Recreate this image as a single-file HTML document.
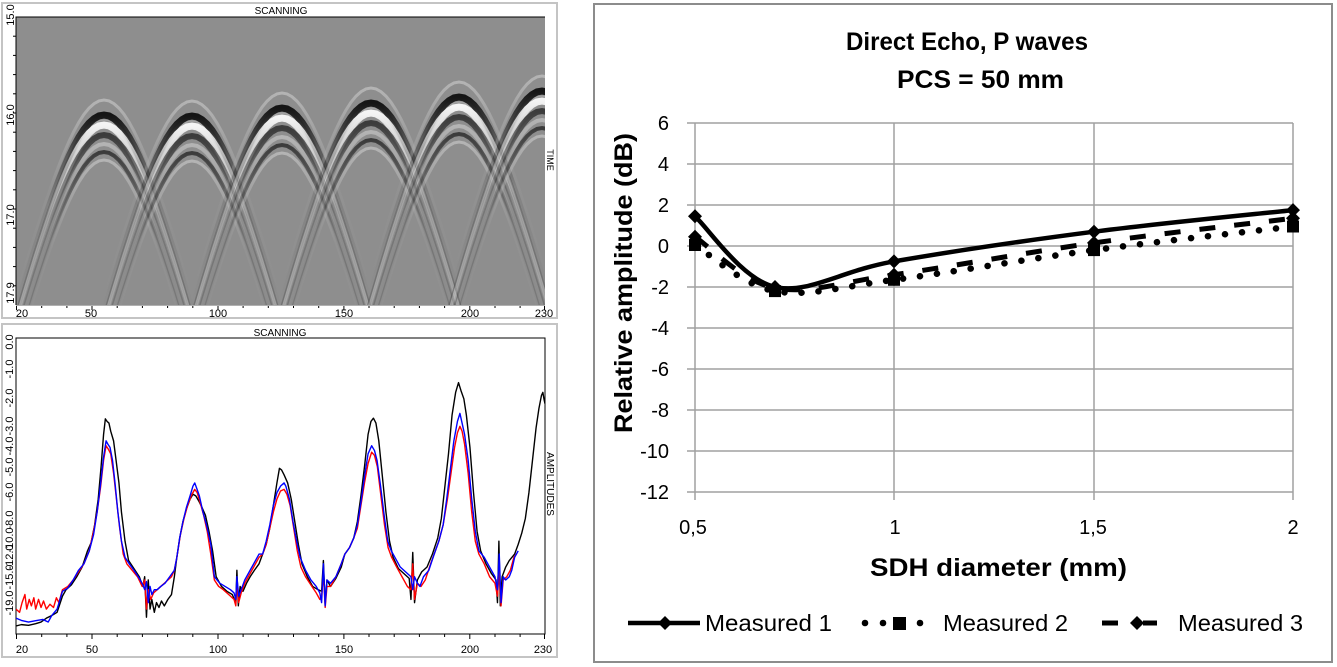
<!DOCTYPE html>
<html><head><meta charset="utf-8"><style>
html,body{margin:0;padding:0;background:#fff;}
svg{display:block;}
text{font-family:"Liberation Sans",Arial,sans-serif;}
</style></head><body>
<svg width="1337" height="667" viewBox="0 0 1337 667" xmlns="http://www.w3.org/2000/svg">
<defs>
  <path id="hyp" fill="none" d="M-110,274.2 L-100,238.6 L-90,203.8 L-80,170.1 L-70,137.6 L-60,106.9 L-55,92.3 L-50,78.4 L-45,65.2 L-40,52.8 L-35,41.4 L-30,31.1 L-25,22 L-20,14.3 L-15,8.2 L-10,3.7 L-5,0.9 L0,0 L5,0.9 L10,3.7 L15,8.2 L20,14.3 L25,22 L30,31.1 L35,41.4 L40,52.8 L45,65.2 L50,78.4 L55,92.3 L60,106.9 L70,137.6 L80,170.1 L90,203.8 L100,238.6 L110,274.2"/>
  <linearGradient id="gL" gradientUnits="userSpaceOnUse" x1="0" y1="0" x2="0" y2="200"><stop offset="0" stop-color="#b8b8b8" stop-opacity="0.9"/><stop offset="0.2" stop-color="#b8b8b8" stop-opacity="0.45"/><stop offset="0.45" stop-color="#b8b8b8" stop-opacity="0.1"/><stop offset="1" stop-color="#b8b8b8" stop-opacity="0"/></linearGradient>
  <linearGradient id="gD" gradientUnits="userSpaceOnUse" x1="0" y1="0" x2="0" y2="200"><stop offset="0" stop-color="#151515" stop-opacity="1"/><stop offset="0.2" stop-color="#151515" stop-opacity="0.45"/><stop offset="0.45" stop-color="#151515" stop-opacity="0.1"/><stop offset="1" stop-color="#151515" stop-opacity="0"/></linearGradient>
  <linearGradient id="gW" gradientUnits="userSpaceOnUse" x1="0" y1="0" x2="0" y2="200"><stop offset="0" stop-color="#f4f4f4" stop-opacity="1"/><stop offset="0.2" stop-color="#f4f4f4" stop-opacity="0.45"/><stop offset="0.45" stop-color="#f4f4f4" stop-opacity="0.1"/><stop offset="1" stop-color="#f4f4f4" stop-opacity="0"/></linearGradient>
  <linearGradient id="gM" gradientUnits="userSpaceOnUse" x1="0" y1="0" x2="0" y2="200"><stop offset="0" stop-color="#383838" stop-opacity="0.95"/><stop offset="0.2" stop-color="#383838" stop-opacity="0.45"/><stop offset="0.45" stop-color="#383838" stop-opacity="0.1"/><stop offset="1" stop-color="#383838" stop-opacity="0"/></linearGradient>
  <g id="arc">
    <use href="#hyp" y="15" stroke="#3c3c3c" stroke-opacity="0.35" stroke-width="1.5"/>
    <use href="#hyp" y="20" stroke="#c8c8c8" stroke-opacity="0.35" stroke-width="1.5"/>
    <use href="#hyp" y="26" stroke="#e0e0e0" stroke-opacity="0.3" stroke-width="1.5"/>
    <use href="#hyp" y="35" stroke="#3c3c3c" stroke-opacity="0.3" stroke-width="1.5"/>
    <use href="#hyp" y="52" stroke="#444" stroke-opacity="0.25" stroke-width="1.3"/>
    <use href="#hyp" y="0" stroke="url(#gL)" stroke-width="3"/>
    <use href="#hyp" y="15" stroke="url(#gD)" stroke-width="7"/>
    <use href="#hyp" y="25" stroke="url(#gW)" stroke-width="7"/>
    <use href="#hyp" y="35" stroke="url(#gM)" stroke-width="6"/>
    <use href="#hyp" y="44" stroke="url(#gL)" stroke-width="4"/>
    <use href="#hyp" y="52" stroke="url(#gM)" stroke-width="4"/>
    <use href="#hyp" y="60" stroke="url(#gL)" stroke-width="3"/>
  </g>
  <clipPath id="clipTop"><rect x="16" y="17" width="529" height="288"/></clipPath>
</defs>

<!-- LEFT TOP PANEL -->
<rect x="2" y="3" width="555" height="315" fill="#fff" stroke="#c4c4c4" stroke-width="2"/>
<rect x="16" y="17" width="529" height="288" fill="#8e8e8e"/>
<g clip-path="url(#clipTop)">
  <use href="#arc" x="104" y="100"/>
  <use href="#arc" x="192" y="101"/>
  <use href="#arc" x="282" y="93"/>
  <use href="#arc" x="371" y="88"/>
  <use href="#arc" x="459" y="82"/>
  <use href="#arc" x="542" y="76"/>
</g>
<path d="M16,305 V17 H545" fill="none" stroke="#000" stroke-width="1"/>
<line x1="16" y1="305.5" x2="545" y2="305.5" stroke="#b0b0b0" stroke-width="1"/>
<text x="281" y="14" font-size="10" text-anchor="middle">SCANNING</text>
<text transform="translate(547,160) rotate(90)" font-size="9" text-anchor="middle">TIME</text>
<g font-size="11" text-anchor="middle">
  <text transform="translate(14,15) rotate(-90)">15.0</text>
  <text transform="translate(14,115) rotate(-90)">16.0</text>
  <text transform="translate(14,215) rotate(-90)">17.0</text>
  <text transform="translate(14,293) rotate(-90)">17.9</text>
</g>
<g stroke="#000" stroke-width="1">
  <line x1="13" y1="36.2" x2="16" y2="36.2"/><line x1="13" y1="55.4" x2="16" y2="55.4"/><line x1="13" y1="74.6" x2="16" y2="74.6"/><line x1="13" y1="93.8" x2="16" y2="93.8"/><line x1="13" y1="113" x2="16" y2="113"/><line x1="13" y1="132.2" x2="16" y2="132.2"/><line x1="13" y1="151.4" x2="16" y2="151.4"/><line x1="13" y1="170.6" x2="16" y2="170.6"/><line x1="13" y1="189.8" x2="16" y2="189.8"/><line x1="13" y1="209" x2="16" y2="209"/><line x1="13" y1="228.2" x2="16" y2="228.2"/><line x1="13" y1="247.4" x2="16" y2="247.4"/><line x1="13" y1="266.6" x2="16" y2="266.6"/><line x1="13" y1="285.8" x2="16" y2="285.8"/>
</g>
<g stroke="#000" stroke-width="1">
  <line x1="16.5" y1="306" x2="16.5" y2="310"/><line x1="41.7" y1="306" x2="41.7" y2="308"/><line x1="66.9" y1="306" x2="66.9" y2="308"/><line x1="92" y1="306" x2="92" y2="310"/><line x1="117.2" y1="306" x2="117.2" y2="308"/><line x1="142.4" y1="306" x2="142.4" y2="308"/><line x1="167.6" y1="306" x2="167.6" y2="308"/><line x1="192.8" y1="306" x2="192.8" y2="308"/><line x1="218" y1="306" x2="218" y2="310"/><line x1="243.1" y1="306" x2="243.1" y2="308"/><line x1="268.3" y1="306" x2="268.3" y2="308"/><line x1="293.5" y1="306" x2="293.5" y2="308"/><line x1="318.7" y1="306" x2="318.7" y2="308"/><line x1="343.9" y1="306" x2="343.9" y2="310"/><line x1="369" y1="306" x2="369" y2="308"/><line x1="394.2" y1="306" x2="394.2" y2="308"/><line x1="419.4" y1="306" x2="419.4" y2="308"/><line x1="444.6" y1="306" x2="444.6" y2="308"/><line x1="469.8" y1="306" x2="469.8" y2="310"/><line x1="495" y1="306" x2="495" y2="308"/><line x1="520.1" y1="306" x2="520.1" y2="308"/><line x1="544.5" y1="306" x2="544.5" y2="310"/>
</g>
<g font-size="11" text-anchor="middle">
  <text x="22" y="317">20</text><text x="91" y="317">50</text><text x="218" y="317">100</text><text x="344" y="317">150</text><text x="470" y="317">200</text><text x="544" y="317">230</text>
</g>

<!-- LEFT BOTTOM PANEL -->
<rect x="2" y="324" width="555" height="333" fill="#fff" stroke="#c4c4c4" stroke-width="2"/>
<rect x="16" y="338" width="529" height="296" fill="#fff" stroke="#000" stroke-width="1"/>
<text x="280" y="336" font-size="10" text-anchor="middle">SCANNING</text>
<text transform="translate(547,484) rotate(90)" font-size="10" text-anchor="middle">AMPLITUDES</text>
<g font-size="11" text-anchor="middle">
  <text transform="translate(13,342) rotate(-90)">0.0</text>
  <text transform="translate(13,369) rotate(-90)">-1.0</text>
  <text transform="translate(13,398) rotate(-90)">-2.0</text>
  <text transform="translate(13,426) rotate(-90)">-3.0</text>
  <text transform="translate(13,446) rotate(-90)">-4.0</text>
  <text transform="translate(13,467) rotate(-90)">-5.0</text>
  <text transform="translate(13,492) rotate(-90)">-6.0</text>
  <text transform="translate(13,520) rotate(-90)">-8.0</text>
  <text transform="translate(13,540) rotate(-90)">-10.0</text>
  <text transform="translate(13,557) rotate(-90)">-12.0</text>
  <text transform="translate(13,577) rotate(-90)">-15.0</text>
  <text transform="translate(13,603) rotate(-90)">-19.0</text>
</g>
<svg x="16" y="338" width="529" height="296" viewBox="45 22 1480 915" preserveAspectRatio="none" overflow="hidden">
  <polyline fill="none" stroke="#000" stroke-width="1.4" vector-effect="non-scaling-stroke" stroke-linejoin="round" points="45,912 60,908 80,910 100,905 115,900 130,888 145,880 160,870 175,820 185,800 200,785 215,760 230,730 245,680 255,655 265,600 275,520 283,420 290,320 295,272 300,280 305,285 310,310 318,340 325,400 333,470 340,560 350,650 360,710 375,735 390,760 400,790 405,760 410,885 415,770 420,860 425,830 432,870 438,840 445,855 452,835 460,850 470,830 480,815 488,760 495,700 503,640 512,590 522,550 532,520 540,505 548,510 556,525 565,545 575,570 585,620 595,680 605,760 620,790 635,805 650,815 660,840 663,740 667,850 672,790 680,805 690,780 700,760 712,740 725,720 735,690 745,660 755,610 765,540 775,470 782,425 788,430 795,445 805,470 815,520 825,590 835,660 845,720 860,760 875,790 890,800 900,805 905,710 910,845 915,770 925,790 940,765 955,730 965,690 978,670 990,640 1000,590 1010,510 1020,420 1030,320 1038,280 1045,270 1052,285 1060,340 1070,450 1080,560 1090,650 1100,700 1115,735 1130,750 1145,765 1150,830 1155,685 1160,840 1168,770 1180,745 1195,730 1210,690 1225,640 1235,580 1245,480 1255,380 1265,260 1275,190 1283,160 1290,185 1298,210 1305,260 1315,360 1325,500 1335,620 1345,680 1360,720 1375,750 1388,770 1392,840 1396,650 1400,850 1405,760 1415,730 1425,710 1440,690 1450,660 1460,625 1470,580 1480,500 1490,400 1500,300 1508,240 1515,200 1519,190 1522,210 1525,225"/>
  <polyline fill="none" stroke="#ff0000" stroke-width="1.4" vector-effect="non-scaling-stroke" stroke-linejoin="round" points="45,860 55,870 62,840 70,815 75,860 82,830 88,850 95,825 100,860 108,830 115,855 122,835 130,860 140,845 150,855 158,825 165,840 175,800 190,790 205,770 220,745 235,720 250,680 262,620 272,560 282,480 290,400 297,355 303,365 310,380 318,440 326,520 335,610 345,690 355,720 370,740 385,760 398,790 405,770 410,860 415,800 422,830 430,810 440,800 450,790 460,780 470,770 480,760 488,740 495,700 505,630 515,580 525,540 535,510 545,490 552,500 560,530 570,570 580,620 590,690 600,770 612,790 625,800 640,815 655,830 660,850 663,780 668,840 675,810 685,780 700,750 715,720 725,700 735,690 745,660 755,610 765,560 775,520 785,495 795,490 803,505 812,540 822,610 832,680 842,730 855,760 870,785 885,810 895,830 900,820 905,750 910,855 915,790 925,790 940,760 955,720 965,690 978,670 990,640 1000,610 1010,540 1020,470 1030,410 1040,375 1048,385 1056,420 1066,510 1076,600 1086,670 1096,700 1110,730 1125,760 1140,790 1150,800 1155,720 1160,830 1168,780 1178,790 1190,770 1205,720 1215,690 1228,650 1240,600 1252,520 1262,440 1272,360 1280,315 1287,295 1293,310 1300,350 1310,440 1320,560 1330,650 1340,690 1355,720 1370,760 1385,780 1392,820 1397,740 1402,850 1408,770 1418,760 1428,740 1438,700 1445,690"/>
  <polyline fill="none" stroke="#0000ff" stroke-width="1.4" vector-effect="non-scaling-stroke" stroke-linejoin="round" points="45,888 60,895 80,900 100,896 120,892 135,900 145,880 160,860 175,805 190,795 205,770 220,740 235,720 250,680 262,630 272,560 282,470 290,390 297,340 302,350 308,360 315,400 322,470 330,560 340,650 350,700 362,720 375,740 390,765 400,785 405,800 410,775 415,840 420,790 425,815 432,800 440,800 450,790 462,780 475,760 488,740 495,700 503,640 512,590 522,545 532,510 540,480 545,470 550,485 558,510 568,560 578,600 590,660 600,760 615,780 630,790 645,800 655,810 660,830 663,760 668,820 675,800 685,770 700,740 715,710 725,690 735,690 745,650 755,600 765,540 775,500 785,480 795,470 800,480 810,520 820,590 830,650 840,700 855,740 870,770 885,790 895,810 900,840 905,720 910,850 915,770 925,780 940,760 955,720 965,690 978,670 990,640 1000,600 1010,530 1020,450 1030,380 1040,355 1048,370 1055,400 1065,480 1075,570 1085,650 1095,680 1105,700 1120,730 1135,745 1150,760 1155,800 1160,760 1168,780 1175,790 1185,760 1200,740 1215,690 1228,650 1240,600 1250,520 1260,430 1270,340 1280,280 1287,255 1293,285 1300,320 1310,400 1320,520 1330,620 1340,680 1355,700 1370,730 1385,760 1392,800 1397,690 1402,840 1408,760 1415,770 1425,760 1432,740 1440,700 1450,680"/>
</svg>
<g stroke="#000" stroke-width="1">
  <line x1="16.5" y1="634" x2="16.5" y2="639"/><line x1="41.7" y1="634" x2="41.7" y2="637"/><line x1="66.9" y1="634" x2="66.9" y2="637"/><line x1="92" y1="634" x2="92" y2="639"/><line x1="117.2" y1="634" x2="117.2" y2="637"/><line x1="142.4" y1="634" x2="142.4" y2="637"/><line x1="167.6" y1="634" x2="167.6" y2="637"/><line x1="192.8" y1="634" x2="192.8" y2="637"/><line x1="218" y1="634" x2="218" y2="639"/><line x1="243.1" y1="634" x2="243.1" y2="637"/><line x1="268.3" y1="634" x2="268.3" y2="637"/><line x1="293.5" y1="634" x2="293.5" y2="637"/><line x1="318.7" y1="634" x2="318.7" y2="637"/><line x1="343.9" y1="634" x2="343.9" y2="639"/><line x1="369" y1="634" x2="369" y2="637"/><line x1="394.2" y1="634" x2="394.2" y2="637"/><line x1="419.4" y1="634" x2="419.4" y2="637"/><line x1="444.6" y1="634" x2="444.6" y2="637"/><line x1="469.8" y1="634" x2="469.8" y2="639"/><line x1="495" y1="634" x2="495" y2="637"/><line x1="520.1" y1="634" x2="520.1" y2="637"/><line x1="544.5" y1="634" x2="544.5" y2="639"/>
</g>
<g font-size="11" text-anchor="middle">
  <text x="22" y="653">20</text><text x="92" y="653">50</text><text x="218" y="653">100</text><text x="344" y="653">150</text><text x="470" y="653">200</text><text x="543" y="653">230</text>
</g>

<!-- RIGHT CHART -->
<rect x="594" y="4" width="738" height="658" fill="#fff" stroke="#8c8c8c" stroke-width="2"/>
<g stroke="#a0a0a0" stroke-width="1.5">
  <line x1="687" y1="123" x2="1293" y2="123"/>
  <line x1="687" y1="164" x2="1293" y2="164"/>
  <line x1="687" y1="205" x2="1293" y2="205"/>
  <line x1="687" y1="246" x2="1293" y2="246"/>
  <line x1="687" y1="287" x2="1293" y2="287"/>
  <line x1="687" y1="328" x2="1293" y2="328"/>
  <line x1="687" y1="369" x2="1293" y2="369"/>
  <line x1="687" y1="410" x2="1293" y2="410"/>
  <line x1="687" y1="451" x2="1293" y2="451"/>
  <line x1="687" y1="492" x2="1293" y2="492"/>
  <line x1="695" y1="123" x2="695" y2="500"/>
  <line x1="894" y1="123" x2="894" y2="500"/>
  <line x1="1094" y1="123" x2="1094" y2="500"/>
  <line x1="1293" y1="123" x2="1293" y2="500"/>
</g>
<g font-size="20" text-anchor="end" fill="#000">
  <text x="669" y="130">6</text>
  <text x="669" y="171">4</text>
  <text x="669" y="212">2</text>
  <text x="669" y="253">0</text>
  <text x="669" y="294">-2</text>
  <text x="669" y="335">-4</text>
  <text x="669" y="376">-6</text>
  <text x="669" y="417">-8</text>
  <text x="669" y="458">-10</text>
  <text x="669" y="499">-12</text>
</g>
<g font-size="20" text-anchor="middle">
  <text x="693" y="534">0,5</text>
  <text x="895" y="534">1</text>
  <text x="1093" y="534">1,5</text>
  <text x="1293" y="534">2</text>
</g>
<text x="846" y="50" font-size="25" font-weight="bold" textLength="242" lengthAdjust="spacingAndGlyphs">Direct Echo, P waves</text>
<text x="897" y="88" font-size="25" font-weight="bold" textLength="167" lengthAdjust="spacingAndGlyphs">PCS = 50 mm</text>
<text x="870" y="576" font-size="25" font-weight="bold" textLength="257" lengthAdjust="spacingAndGlyphs">SDH diameter (mm)</text>
<text transform="translate(632,433) rotate(-90)" font-size="25" font-weight="bold" textLength="300" lengthAdjust="spacingAndGlyphs">Relative amplitude (dB)</text>

<!-- series 1 solid -->
<path d="M695,216.3 C708.3,228.1 741.8,279.5 775,287 C808.2,294.5 840.8,270.6 894,261.4 C947.2,252.2 1027.5,240.3 1094,231.7 C1160.5,223.1 1259.8,213.7 1293,210.1" fill="none" stroke="#000" stroke-width="4.5"/>
<!-- series 2 dotted -->
<path d="M695,245 C708.3,252.7 741.8,285.3 775,291.1 C808.2,296.9 840.8,286.7 894,279.8 C947.2,273 1027.5,259 1094,250.1 C1160.5,241.2 1259.8,230.4 1293,226.5" fill="none" stroke="#000" stroke-width="6.5" stroke-linecap="round" stroke-dasharray="0.1 17"/>
<!-- series 3 dashed -->
<path d="M695,236.8 C708.3,245.3 741.8,281.7 775,288 C808.2,294.3 840.8,282.2 894,274.7 C947.2,267.2 1027.5,252.3 1094,242.9 C1160.5,233.5 1259.8,222.4 1293,218.3" fill="none" stroke="#000" stroke-width="5" stroke-dasharray="16 19"/>
<!-- markers -->
<g fill="#000">
  <path d="M695,209.3 L702,216.3 L695,223.3 L688,216.3Z"/>
  <path d="M775,280 L782,287 L775,294 L768,287Z"/>
  <path d="M894,254.4 L901,261.4 L894,268.4 L887,261.4Z"/>
  <path d="M1094,224.7 L1101,231.7 L1094,238.7 L1087,231.7Z"/>
  <path d="M1293,203.1 L1300,210.1 L1293,217.1 L1286,210.1Z"/>
  <rect x="689" y="239" width="12" height="12"/>
  <rect x="769" y="285.1" width="12" height="12"/>
  <rect x="888" y="273.8" width="12" height="12"/>
  <rect x="1088" y="244.1" width="12" height="12"/>
  <rect x="1287" y="220.5" width="12" height="12"/>
  <path d="M695,229.8 L702,236.8 L695,243.8 L688,236.8Z"/>
  <path d="M775,281 L782,288 L775,295 L768,288Z"/>
  <path d="M894,267.7 L901,274.7 L894,281.7 L887,274.7Z"/>
  <path d="M1094,235.9 L1101,242.9 L1094,249.9 L1087,242.9Z"/>
  <path d="M1293,211.3 L1300,218.3 L1293,225.3 L1286,218.3Z"/>
</g>

<!-- legend -->
<line x1="628" y1="623" x2="700" y2="623" stroke="#000" stroke-width="4.5"/>
<path d="M665,616 L672,623 L665,630 L658,623Z" fill="#000"/>
<text x="705" y="631" font-size="23" textLength="127" lengthAdjust="spacingAndGlyphs">Measured 1</text>
<circle cx="865" cy="623" r="3.3" fill="#000"/>
<circle cx="883" cy="623" r="3.3" fill="#000"/>
<rect x="893" y="617" width="13" height="13" fill="#000"/>
<circle cx="920" cy="623" r="3.3" fill="#000"/>
<text x="943" y="631" font-size="23" textLength="125" lengthAdjust="spacingAndGlyphs">Measured 2</text>
<rect x="1102" y="620.5" width="16" height="5" fill="#000"/>
<path d="M1137,616 L1144,623 L1137,630 L1130,623Z" fill="#000"/>
<rect x="1143" y="620.5" width="14" height="5" fill="#000"/>
<text x="1178" y="631" font-size="23" textLength="125" lengthAdjust="spacingAndGlyphs">Measured 3</text>
</svg>
</body></html>
